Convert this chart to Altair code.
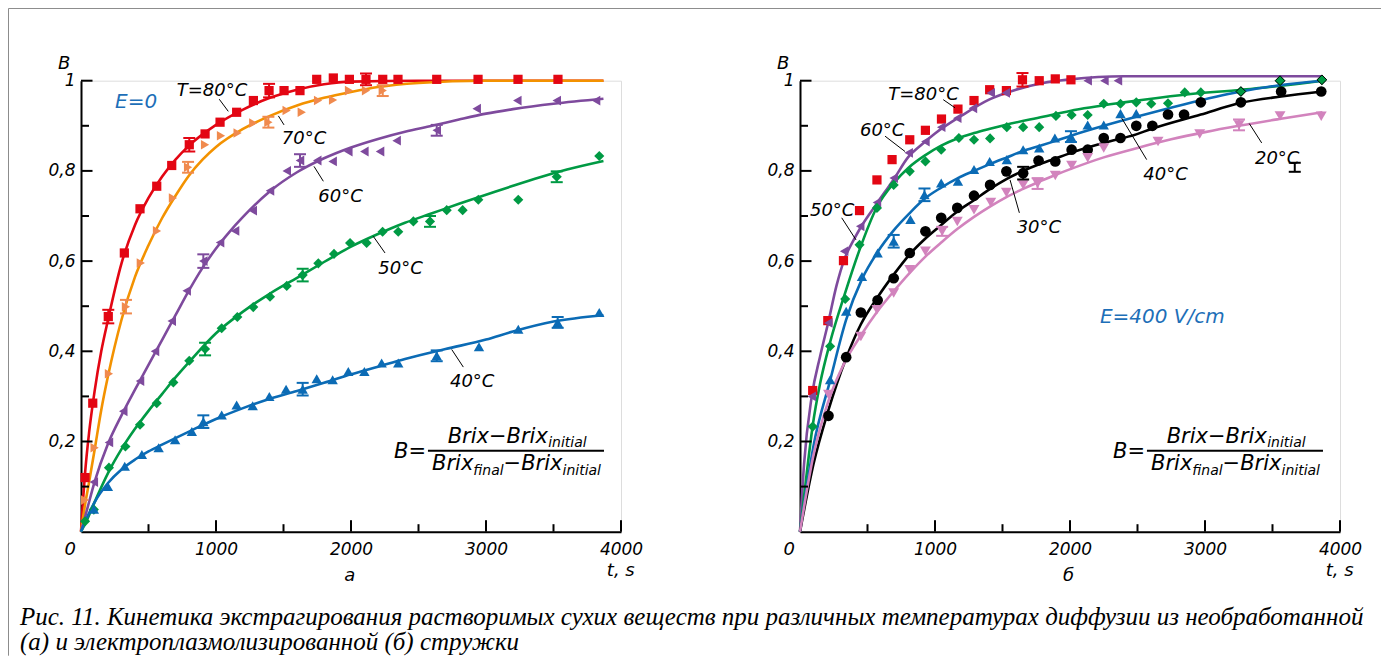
import altair as alt
import pandas as pd

# ---------------- panel а (E = 0): measured points ----------------
a_r_t = [30, 87, 202, 321, 437, 561, 672, 802, 919, 1030, 1153, 1277, 1393, 1504, 1622, 1746, 1869, 1988, 2111, 2235, 2348, 2635, 2941, 3237, 3533]
a_r_B = [0.12, 0.285, 0.477, 0.618, 0.716, 0.766, 0.812, 0.858, 0.882, 0.908, 0.930, 0.956, 0.978, 0.978, 0.978, 1.003, 1.006, 1.003, 1.003, 1.003, 1.003, 1.003, 1.003, 1.003, 1.003]
a_o_t = [30, 101, 207, 333, 443, 563, 681, 793, 919, 1037, 1160, 1276, 1388, 1523, 1635, 1756, 1867, 1985, 2111, 2235]
a_o_B = [0.07, 0.186, 0.35, 0.499, 0.596, 0.667, 0.74, 0.808, 0.858, 0.878, 0.884, 0.906, 0.908, 0.934, 0.93, 0.956, 0.957, 0.978, 0.978, 0.978]
a_p_t = [95, 207, 313, 437, 548, 672, 783, 906, 1030, 1141, 1272, 1400, 1524, 1622, 1750, 1864, 1980, 2099, 2215, 2338, 2635, 2931, 3232, 3524, 3815]
a_p_B = [0.11, 0.198, 0.267, 0.334, 0.4, 0.467, 0.534, 0.6, 0.641, 0.667, 0.712, 0.756, 0.8, 0.823, 0.823, 0.821, 0.843, 0.843, 0.843, 0.867, 0.89, 0.938, 0.956, 0.956, 0.956]
a_g_t = [30, 95, 207, 329, 437, 561, 684, 802, 919, 1042, 1158, 1276, 1400, 1524, 1642, 1758, 1874, 1993, 2116, 2234, 2350, 2462, 2585, 2709, 2827, 2943, 3239, 3524, 3839]
a_g_B = [0.023, 0.049, 0.142, 0.189, 0.237, 0.285, 0.331, 0.379, 0.405, 0.451, 0.476, 0.498, 0.521, 0.545, 0.569, 0.595, 0.616, 0.64, 0.64, 0.665, 0.665, 0.688, 0.688, 0.713, 0.713, 0.736, 0.736, 0.787, 0.833]
a_b_t = [95, 199, 324, 451, 575, 697, 821, 906, 1042, 1153, 1272, 1395, 1519, 1642, 1746, 1864, 1980, 2099, 2227, 2350, 2635, 2948, 3239, 3531, 3839]
a_b_B = [0.05, 0.1, 0.145, 0.171, 0.186, 0.204, 0.222, 0.244, 0.259, 0.281, 0.279, 0.3, 0.316, 0.316, 0.339, 0.337, 0.355, 0.355, 0.374, 0.374, 0.39, 0.41, 0.449, 0.464, 0.486]

# panel а: fitted curves
ac_r_t = [0, 15, 30, 60, 100, 150, 200, 300, 400, 500, 600, 700, 800, 1000, 1200, 1400, 1600, 1800, 2000, 2500, 3000, 3500, 3870]
ac_r_B = [0, 0.07, 0.13, 0.22, 0.31, 0.40, 0.47, 0.595, 0.68, 0.74, 0.787, 0.825, 0.856, 0.902, 0.936, 0.962, 0.98, 0.992, 0.998, 1.0, 1.0, 1.0, 1.0]
ac_o_t = [0, 30, 60, 100, 150, 200, 300, 400, 500, 600, 700, 800, 900, 1000, 1200, 1400, 1600, 1800, 2000, 2200, 2500, 3000, 3500, 3870]
ac_o_B = [0, 0.06, 0.11, 0.18, 0.27, 0.345, 0.47, 0.565, 0.635, 0.695, 0.745, 0.79, 0.825, 0.853, 0.893, 0.922, 0.945, 0.962, 0.975, 0.986, 0.995, 1.0, 1.0, 1.0]
ac_p_t = [0, 50, 100, 200, 300, 400, 500, 600, 700, 800, 900, 1000, 1100, 1200, 1400, 1600, 1800, 2000, 2200, 2400, 2600, 2800, 3000, 3200, 3500, 3870]
ac_p_B = [0, 0.055, 0.11, 0.195, 0.258, 0.315, 0.37, 0.425, 0.48, 0.535, 0.585, 0.628, 0.665, 0.698, 0.755, 0.797, 0.828, 0.852, 0.871, 0.887, 0.9, 0.914, 0.927, 0.937, 0.949, 0.96]
ac_g_t = [0, 50, 100, 200, 300, 400, 500, 600, 700, 800, 1000, 1200, 1400, 1600, 1800, 2000, 2200, 2400, 2600, 2800, 3000, 3200, 3400, 3600, 3870]
ac_g_B = [0, 0.03, 0.065, 0.13, 0.183, 0.228, 0.268, 0.305, 0.342, 0.376, 0.44, 0.488, 0.528, 0.563, 0.598, 0.632, 0.66, 0.685, 0.706, 0.727, 0.747, 0.767, 0.786, 0.803, 0.822]
ac_b_t = [0, 50, 100, 200, 300, 400, 500, 600, 800, 1000, 1200, 1400, 1600, 1800, 2000, 2200, 2400, 2700, 3000, 3200, 3500, 3870]
ac_b_B = [0, 0.035, 0.065, 0.108, 0.138, 0.16, 0.178, 0.193, 0.222, 0.25, 0.274, 0.295, 0.312, 0.33, 0.349, 0.366, 0.383, 0.405, 0.426, 0.444, 0.466, 0.48]

# panel а: error bars (series, t, B, half-height)
a_e_s = ["R", "R", "R", "R", "O", "O", "O", "O", "P", "P", "P", "G", "G", "G", "G", "Bl", "Bl", "Bl", "Bl"]
a_e_t = [202, 802, 1393, 2111, 333, 793, 1388, 2235, 906, 1622, 2635, 919, 1642, 2585, 3524, 906, 1642, 2635, 3531]
a_e_B = [0.477, 0.858, 0.978, 1.003, 0.499, 0.808, 0.908, 0.978, 0.6, 0.823, 0.89, 0.405, 0.569, 0.688, 0.787, 0.244, 0.316, 0.39, 0.464]
a_e_h = [0.015, 0.015, 0.015, 0.013, 0.015, 0.012, 0.012, 0.012, 0.015, 0.014, 0.012, 0.014, 0.014, 0.012, 0.012, 0.014, 0.014, 0.012, 0.012]

# ---------------- panel б (E = 400 V/cm) ----------------
b_r_t = [94, 206, 322, 441, 570, 682, 813, 929, 1048, 1170, 1289, 1405, 1529, 1648, 1772, 1891, 2007]
b_r_B = [0.313, 0.468, 0.601, 0.712, 0.78, 0.825, 0.869, 0.89, 0.915, 0.937, 0.956, 0.98, 0.978, 1.002, 1.0, 1.004, 1.002]
b_p_t = [87, 210, 327, 446, 570, 694, 805, 929, 1046, 1165, 1281, 1413, 1524, 2131, 2255, 2355]
b_p_B = [0.3, 0.463, 0.622, 0.677, 0.73, 0.784, 0.84, 0.865, 0.897, 0.917, 0.939, 0.973, 0.973, 1.0, 1.0, 1.0]
b_g_t = [94, 223, 335, 441, 570, 694, 813, 929, 1046, 1177, 1289, 1408, 1532, 1653, 1772, 1896, 2012, 2131, 2250, 2374, 2491, 2602, 2726, 2850, 2969, 3266, 3556, 3866]
b_g_B = [0.233, 0.411, 0.516, 0.636, 0.718, 0.769, 0.799, 0.821, 0.847, 0.873, 0.869, 0.872, 0.897, 0.897, 0.897, 0.922, 0.924, 0.924, 0.949, 0.949, 0.952, 0.949, 0.95, 0.974, 0.974, 0.976, 1.0, 1.002]
b_b_t = [223, 342, 459, 575, 694, 818, 922, 1046, 1170, 1289, 1405, 1532, 1653, 1772, 1888, 2007, 2131, 2250, 2374, 2491]
b_b_B = [0.337, 0.489, 0.566, 0.618, 0.644, 0.692, 0.747, 0.773, 0.777, 0.803, 0.821, 0.825, 0.847, 0.851, 0.873, 0.876, 0.902, 0.902, 0.927, 0.927]
b_k_t = [211, 342, 451, 575, 694, 813, 929, 1046, 1165, 1289, 1408, 1529, 1653, 1767, 1891, 2012, 2131, 2250, 2374, 2491, 2610, 2726, 2845, 2969, 3266, 3564, 3861]
b_k_B = [0.257, 0.387, 0.486, 0.513, 0.562, 0.618, 0.666, 0.696, 0.718, 0.745, 0.769, 0.799, 0.795, 0.823, 0.821, 0.847, 0.847, 0.873, 0.873, 0.9, 0.9, 0.925, 0.925, 0.952, 0.952, 0.976, 0.976]
b_pk_t = [211, 451, 570, 694, 813, 929, 1053, 1165, 1289, 1413, 1529, 1653, 1760, 1891, 2012, 2131, 2250, 2652, 2961, 3252, 3556, 3861]
b_pk_B = [0.304, 0.433, 0.492, 0.529, 0.581, 0.622, 0.666, 0.688, 0.714, 0.73, 0.752, 0.769, 0.772, 0.79, 0.812, 0.829, 0.851, 0.865, 0.882, 0.902, 0.922, 0.921]

bc_p_t = [0, 30, 87, 150, 210, 270, 330, 400, 450, 570, 700, 800, 900, 1000, 1200, 1400, 1600, 1800, 2000, 2400, 3000, 3500, 3870]
bc_p_B = [0, 0.15, 0.3, 0.39, 0.465, 0.545, 0.605, 0.648, 0.675, 0.728, 0.784, 0.83, 0.858, 0.883, 0.923, 0.958, 0.98, 0.995, 1.003, 1.01, 1.01, 1.01, 1.01]
bc_g_t = [0, 50, 94, 150, 223, 335, 441, 570, 700, 800, 929, 1046, 1165, 1289, 1400, 1520, 1800, 2000, 2400, 2850, 3270, 3600, 3870]
bc_g_B = [0, 0.13, 0.235, 0.33, 0.42, 0.53, 0.625, 0.72, 0.775, 0.806, 0.835, 0.856, 0.872, 0.884, 0.893, 0.902, 0.92, 0.933, 0.952, 0.969, 0.98, 0.99, 1.0]
bc_b_t = [0, 50, 100, 223, 342, 459, 575, 694, 818, 922, 1046, 1170, 1289, 1405, 1532, 1653, 1772, 1888, 2007, 2250, 2491, 2850, 3247, 3550, 3870]
bc_b_B = [0, 0.1, 0.19, 0.335, 0.47, 0.56, 0.62, 0.668, 0.708, 0.738, 0.763, 0.784, 0.8, 0.815, 0.83, 0.844, 0.855, 0.866, 0.878, 0.9, 0.92, 0.948, 0.975, 0.99, 1.0]
bc_k_t = [0, 100, 211, 342, 451, 575, 694, 813, 929, 1046, 1165, 1289, 1408, 1529, 1653, 1767, 1888, 2007, 2250, 2491, 2602, 2969, 3266, 3564, 3870]
bc_k_B = [0, 0.15, 0.27, 0.385, 0.46, 0.52, 0.57, 0.615, 0.65, 0.68, 0.71, 0.735, 0.76, 0.782, 0.8, 0.814, 0.827, 0.84, 0.862, 0.881, 0.893, 0.925, 0.951, 0.965, 0.976]
bc_pk_t = [0, 100, 211, 330, 451, 570, 694, 813, 929, 1053, 1165, 1289, 1413, 1529, 1653, 1770, 1891, 2012, 2250, 2500, 2750, 3000, 3250, 3550, 3870]
bc_pk_B = [0, 0.17, 0.29, 0.375, 0.435, 0.487, 0.533, 0.574, 0.61, 0.643, 0.671, 0.698, 0.722, 0.742, 0.76, 0.776, 0.791, 0.805, 0.83, 0.851, 0.87, 0.886, 0.9, 0.915, 0.93]

b_e_s = ["R", "Bl", "Bl", "Bl", "K", "Pk", "Pk", "Pk", "K"]
b_e_t = [1648, 694, 922, 2007, 1653, 1053, 1760, 3252, 3665]
b_e_B = [1.002, 0.644, 0.747, 0.876, 0.795, 0.666, 0.772, 0.902, 0.808]
b_e_h = [0.015, 0.014, 0.014, 0.012, 0.014, 0.01, 0.012, 0.012, 0.01]

# axis ticks
x_major = [1000, 2000, 3000, 4000]
x_minor = [500, 1500, 2500, 3500]
y_major = [0.2, 0.4, 0.6, 0.8, 1.0]
y_minor = [0.1, 0.3, 0.5, 0.7, 0.9]

# annotations (text, t, B)
a_lab_txt = ["T=80°C", "70°C", "60°C", "50°C", "40°C"]
a_lab_t = [709, 1487, 1758, 2202, 2733]
a_lab_B = [0.965, 0.86, 0.731, 0.571, 0.32]
a_lead_t = [1024, 1462, 1726, 2165, 2746]
a_lead_B = [0.959, 0.922, 0.81, 0.655, 0.404]
a_lead_t2 = [1091, 1504, 1795, 2252, 2832]
a_lead_B2 = [0.932, 0.902, 0.777, 0.618, 0.365]

b_lab_txt = ["T=80°C", "60°C", "50°C", "30°C", "40°C", "20°C"]
b_lab_t = [654, 444, 74, 1605, 2543, 3370]
b_lab_B = [0.958, 0.877, 0.699, 0.662, 0.78, 0.816]
b_lead_t = [1061, 630, 309, 1556, 2383, 3328]
b_lead_B = [0.958, 0.877, 0.696, 0.78, 0.917, 0.905]
b_lead_t2 = [1148, 778, 415, 1625, 2568, 3420]
b_lead_B2 = [0.94, 0.843, 0.647, 0.707, 0.825, 0.862]

caption_1 = "Рис. 11. Кинетика экстрагирования растворимых сухих веществ при различных температурах диффузии из необработанной"
caption_2 = "(а) и электроплазмолизированной (б) стружки"

# ---------------- styles ----------------
keys = ["R", "O", "O_line", "P", "G", "Bl", "K", "Pk"]
cols = ["#e30613", "#f08a4e", "#f39200", "#7e4a9d", "#009a44", "#0b6bb5", "#000000", "#d283bd"]
pkeys = ["R", "O", "P", "G", "Bl", "K", "Pk"]
shapes = ["square", "triangle-right", "triangle-left", "diamond", "triangle-up", "circle", "triangle-down"]
sizes = [85, 120, 120, 70, 150, 85, 130]
FONT = "DejaVu Sans"
W, H = 540, 451

color = alt.Color("s:N", scale=alt.Scale(domain=keys, range=cols), legend=None)
xs = alt.Scale(domain=[0, 4000], nice=False, zero=False)
ys = alt.Scale(domain=[0, 1], nice=False, zero=False)
x_axis = alt.Axis(values=x_major, format="d", ticks=False, tickSize=0, domain=True, domainColor="black", domainWidth=2,
                  labelFont=FONT, labelFontStyle="italic", labelFontSize=17, labelColor="black",
                  labelPadding=10, grid=False, title=None, labelFlush=False)
y_axis = alt.Axis(values=y_major, ticks=False, tickSize=0, domain=True, domainColor="black", domainWidth=2,
                  labelFont=FONT, labelFontStyle="italic", labelFontSize=17, labelColor="black",
                  labelPadding=6, grid=False, title=None, labelFlush=False,
                  labelExpr="datum.value == 1 ? '1' : replace(format(datum.value, '.1f'), '.', ',')")
X = alt.X("t:Q", scale=xs, axis=x_axis)
Y = alt.Y("B:Q", scale=ys, axis=y_axis)


def df(t, b, key):
    return pd.DataFrame({"t": t, "B": b, "s": key})


def txt_layer(txt, t, b, align, size, col="black"):
    return alt.Chart(pd.DataFrame({"txt": txt, "t": t, "B": b})).mark_text(
        align=align, baseline="alphabetic", font=FONT, fontStyle="italic", fontSize=size, color=col).encode(
        x=X, y=Y, text="txt:N")


def panel(pts, curves, errs, lab_txt, lab_t, lab_B, lt, lB, lt2, lB2, e_txt, e_t, e_B, sub_lbl, extra):
    errs = errs.copy()
    errs["lo"] = errs["B"] - errs["h"]
    errs["hi"] = errs["B"] + errs["h"]
    lines = alt.Chart(curves).mark_line(interpolate="monotone", strokeWidth=2.6).encode(x=X, y=Y, color=color, detail="s:N")
    points = alt.Chart(pts).mark_point(filled=True, opacity=1).encode(
        x=X, y=Y, color=color,
        shape=alt.Shape("s:N", scale=alt.Scale(domain=pkeys, range=shapes), legend=None),
        size=alt.Size("s:N", scale=alt.Scale(domain=pkeys, range=sizes), legend=None))
    err_rule = alt.Chart(errs).mark_rule(strokeWidth=2).encode(x=X, y=alt.Y("lo:Q", scale=ys, axis=y_axis), y2="hi:Q", color=color)
    cap_lo = alt.Chart(errs).mark_tick(orient="horizontal", size=12, thickness=2, opacity=1).encode(
        x=X, y=alt.Y("lo:Q", scale=ys, axis=y_axis), color=color)
    cap_hi = alt.Chart(errs).mark_tick(orient="horizontal", size=12, thickness=2, opacity=1).encode(
        x=X, y=alt.Y("hi:Q", scale=ys, axis=y_axis), color=color)
    xt_major = alt.Chart(pd.DataFrame({"t": x_major})).mark_rule(strokeWidth=2, color="black").encode(
        x=X, y=alt.value(H), y2=alt.value(H - 11.5))
    xt_minor = alt.Chart(pd.DataFrame({"t": x_minor})).mark_rule(strokeWidth=2, color="black").encode(
        x=X, y=alt.value(H), y2=alt.value(H - 7.5))
    yt_major = alt.Chart(pd.DataFrame({"B": y_major})).mark_rule(strokeWidth=2, color="black").encode(
        y=Y, x=alt.value(0), x2=alt.value(11.5))
    yt_minor = alt.Chart(pd.DataFrame({"B": y_minor})).mark_rule(strokeWidth=2, color="black").encode(
        y=Y, x=alt.value(0), x2=alt.value(8))
    labels = txt_layer(lab_txt, lab_t, lab_B, "left", 18)
    leaders = alt.Chart(pd.DataFrame({"t": lt, "B": lB, "t2": lt2, "B2": lB2})).mark_rule(
        strokeWidth=1, color="black").encode(x=X, y=Y, x2="t2:Q", y2="B2:Q")
    etext = txt_layer([e_txt], [e_t], [e_B], "left", 20, "#1d6fb8")
    # formula B = (Brix - Brix_initial) / (Brix_final - Brix_initial)
    f_right = txt_layer(["B=", "Brix\u2212Brix", "Brix"], [2556, 3458, 2906], [0.164, 0.197, 0.137], "right", 21)
    f_left = txt_layer(["\u2212Brix"], [3130], [0.137], "left", 21)
    f_sub = txt_layer(["initial", "final", "initial"], [3461, 2906, 3567], [0.188, 0.126, 0.126], "left", 14)
    f_bar = alt.Chart(pd.DataFrame({"t": [2570], "t2": [3874], "B": [0.1796]})).mark_rule(
        strokeWidth=2, color="black").encode(x=X, x2="t2:Q", y=Y)
    # axis captions: B, 0, panel letter, "t, s"
    ax_txt = txt_layer(["B", "t, s"], [-170, 3895], [1.025, -0.098], "left", 18)
    ax_c = txt_layer(["0", sub_lbl], [-80, 1990], [-0.051, -0.109], "center", 18)
    layers = [lines, points] + extra + [err_rule, cap_lo, cap_hi, xt_major, xt_minor, yt_major, yt_minor,
                                          labels, leaders, etext, f_right, f_left, f_sub, f_bar, ax_txt, ax_c]
    return alt.layer(*layers).properties(width=W, height=H)


pts_a = pd.concat([df(a_r_t, a_r_B, "R"), df(a_o_t, a_o_B, "O"), df(a_p_t, a_p_B, "P"),
                   df(a_g_t, a_g_B, "G"), df(a_b_t, a_b_B, "Bl")])
cur_a = pd.concat([df(ac_r_t, ac_r_B, "R"), df(ac_o_t, ac_o_B, "O_line"), df(ac_p_t, ac_p_B, "P"),
                   df(ac_g_t, ac_g_B, "G"), df(ac_b_t, ac_b_B, "Bl")])
err_a = pd.DataFrame({"s": a_e_s, "t": a_e_t, "B": a_e_B, "h": a_e_h})

pts_b = pd.concat([df(b_r_t, b_r_B, "R"), df(b_p_t, b_p_B, "P"), df(b_g_t, b_g_B, "G"),
                   df(b_b_t, b_b_B, "Bl"), df(b_k_t, b_k_B, "K"), df(b_pk_t, b_pk_B, "Pk")])
cur_b = pd.concat([df(bc_p_t, bc_p_B, "P"), df(bc_g_t, bc_g_B, "G"), df(bc_b_t, bc_b_B, "Bl"),
                   df(bc_k_t, bc_k_B, "K"), df(bc_pk_t, bc_pk_B, "Pk")])
err_b = pd.DataFrame({"s": b_e_s, "t": b_e_t, "B": b_e_B, "h": b_e_h})

# outlined diamonds at the end of the 50 °C series in panel б
outlined = alt.Chart(pts_b).transform_filter("datum.s == 'G' && datum.t > 3200").mark_point(
    shape="diamond", filled=True, size=95, fill="#009a44", stroke="black", strokeWidth=1, opacity=1).encode(x=X, y=Y)

# figure frame and caption (drawn in panel а coordinates)
frame_top = alt.Chart(pd.DataFrame({"k": [0]})).mark_rule(color="#8c8c8c", strokeWidth=1).encode(
    x=alt.value(-72.5), x2=alt.value(1300), y=alt.value(-72.2))
frame_left = alt.Chart(pd.DataFrame({"k": [0]})).mark_rule(color="#8c8c8c", strokeWidth=1).encode(
    x=alt.value(-72.5), y=alt.value(-72.2), y2=alt.value(575))
cap1 = alt.Chart(pd.DataFrame({"txt": [caption_1]})).mark_text(
    align="left", baseline="alphabetic", font="Liberation Serif", fontStyle="italic", fontSize=25,
    color="black").encode(x=alt.value(-61), y=alt.value(544), text="txt:N")
cap2 = alt.Chart(pd.DataFrame({"txt": [caption_2]})).mark_text(
    align="left", baseline="alphabetic", font="Liberation Serif", fontStyle="italic", fontSize=25,
    color="black").encode(x=alt.value(-61), y=alt.value(569.5), text="txt:N")

panel_a = panel(pts_a, cur_a, err_a, a_lab_txt, a_lab_t, a_lab_B, a_lead_t, a_lead_B, a_lead_t2, a_lead_B2,
                "E=0", 252, 0.94, "а", [frame_top, frame_left, cap1, cap2])
panel_b = panel(pts_b, cur_b, err_b, b_lab_txt, b_lab_t, b_lab_B, b_lead_t, b_lead_B, b_lead_t2, b_lead_B2,
                "E=400 V/cm", 2222, 0.463, "б", [outlined])

chart = alt.hconcat(panel_a, panel_b, spacing=179, bounds="flush").properties(
    autosize=alt.AutoSizeParams(type="none"),
    padding={"left": 73, "top": 72.7, "right": 1308, "bottom": 571}
).configure_view(stroke=None).configure(background="white")

chart.save("out.html", embed_options={"renderer": "svg", "actions": False})
